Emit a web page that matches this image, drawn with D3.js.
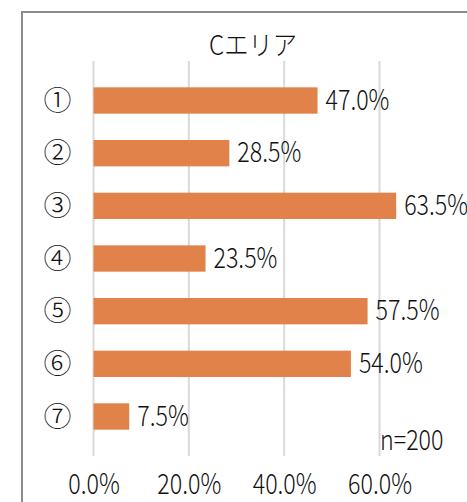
<!DOCTYPE html>
<html>
<head>
<meta charset="utf-8">
<script src="https://cdn.jsdelivr.net/npm/d3@7"></script>
<style>
  body { margin: 0; background: #fff; }
  text { font-family: "Noto Sans CJK JP", "Noto Sans", sans-serif; fill: #111; font-weight: 300; }
</style>
</head>
<body>
<script>
// data
var categories = ["①", "②", "③", "④", "⑤", "⑥", "⑦"];
var values = [47.0, 28.5, 63.5, 23.5, 57.5, 54.0, 7.5];
var tickValues = [0, 20, 40, 60];
var title = "Cエリア";
var note = "n=200";

var width = 467, height = 502;
var margin = { top: 61, right: 40, bottom: 46, left: 93.5 };
var narrow = 0.83; // reference font is condensed

var svg = d3.select("body").append("svg")
    .attr("width", width)
    .attr("height", height);

// outer frame
svg.append("rect")
    .attr("x", 22)
    .attr("y", 12)
    .attr("width", width)
    .attr("height", height)
    .attr("fill", "none")
    .attr("stroke", "#8c8c8c")
    .attr("stroke-width", 2);

var x = d3.scaleLinear()
    .domain([0, 60])
    .range([margin.left, 379.5]);

var y = d3.scaleBand()
    .domain(categories)
    .range([margin.top, height - margin.bottom])
    .padding(0.5);

// text helper: squeezed horizontally
function label(g, tx, ty, str, size, anchor, sx) {
    return g.append("g")
        .attr("transform", "translate(" + tx + "," + ty + ") scale(" + sx + ",1)")
        .append("text")
        .attr("text-anchor", anchor)
        .style("font-size", size + "px")
        .text(str);
}

// gridlines
svg.append("g")
    .selectAll("line")
    .data(tickValues)
    .enter().append("line")
    .attr("x1", function (d) { return x(d); })
    .attr("x2", function (d) { return x(d); })
    .attr("y1", margin.top)
    .attr("y2", height - margin.bottom)
    .attr("stroke", "#d9d9d9")
    .attr("stroke-width", 2);

// title
label(svg, 253, 55, title, 27, "middle", 0.9);

// bars
svg.append("g")
    .selectAll("rect")
    .data(values)
    .enter().append("rect")
    .attr("x", x(0))
    .attr("y", function (d, i) { return y(categories[i]); })
    .attr("width", function (d) { return x(d) - x(0); })
    .attr("height", y.bandwidth())
    .attr("fill", "#e0824a");

// value labels
var vl = svg.append("g");
values.forEach(function (d, i) {
    label(vl, x(d) + 8, y(categories[i]) + y.bandwidth() / 2 + 9, d.toFixed(1) + "%", 28, "start", narrow);
});

// category labels
var cl = svg.append("g");
categories.forEach(function (d) {
    label(cl, 57.5, y(d) + y.bandwidth() / 2 + 10, d, 28, "middle", 1);
});

// x axis
var xAxis = d3.axisBottom(x)
    .tickValues(tickValues)
    .tickSize(0)
    .tickFormat(function (d) { return d.toFixed(1) + "%"; });

var ax = svg.append("g")
    .attr("transform", "translate(0,494)")
    .call(xAxis);
ax.select(".domain").remove();
ax.selectAll(".tick text").remove();
ax.selectAll(".tick").each(function (d) {
    label(d3.select(this), 0, 0, xAxis.tickFormat()(d), 28, "middle", narrow);
});

// n=
label(svg, 380, 450, note, 28, "start", narrow);
</script>
</body>
</html>
